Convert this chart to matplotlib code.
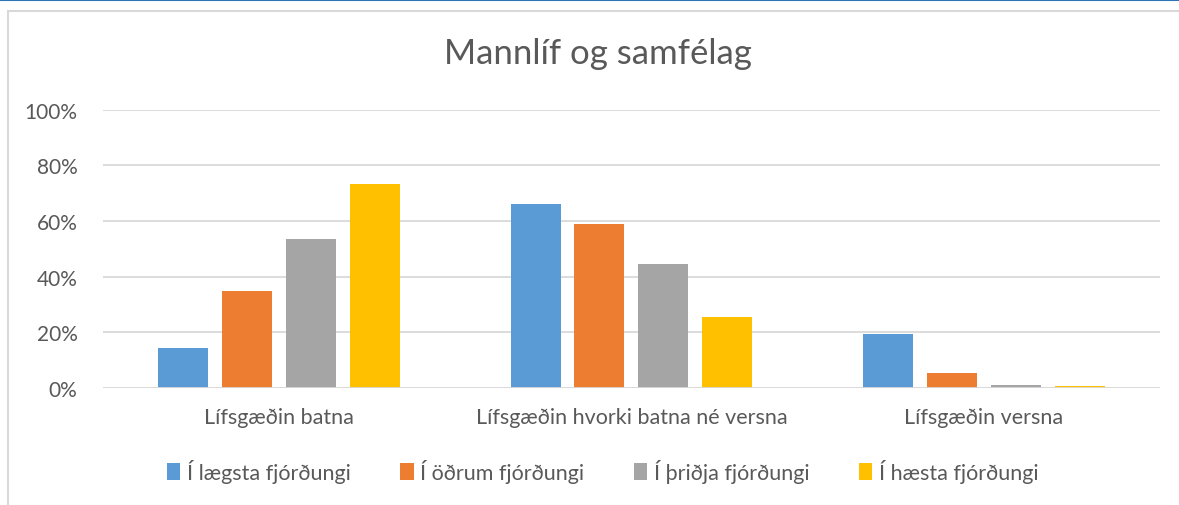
import numpy as np
import matplotlib.pyplot as plt
from matplotlib.patches import Patch
from matplotlib.lines import Line2D

plt.rcParams['font.family'] = ['Lato', 'DejaVu Sans']

categories = ["Lífsgæðin batna", "Lífsgæðin hvorki batna né versna", "Lífsgæðin versna"]
series_names = ["Í lægsta fjórðungi", "Í öðrum fjórðungi", "Í þriðja fjórðungi", "Í hæsta fjórðungi"]
lowest = [14.3, 66.1, 19.2]
second = [35.0, 59.1, 5.2]
third = [53.6, 44.4, 1.2]
highest = [73.2, 25.4, 0.8]
yticks = [0, 20, 40, 60, 80, 100]

colors = ["#5B9BD5", "#ED7D31", "#A5A5A5", "#FFC000"]
txt = "#595959"

fig = plt.figure(figsize=(11.79, 5.06), dpi=100)
ax = fig.add_axes([0.087, 0.2315, 0.897, 0.5495])

x = np.arange(len(categories))
width = 0.142
step = 0.181
for i, (vals, col) in enumerate(zip([lowest, second, third, highest], colors)):
    ax.bar(x + (i - 1.5) * step, vals, width, color=col, zorder=3)

ax.set_xlim(-0.5, 2.5)
ax.set_ylim(0, 100)
ax.set_yticks(yticks)
ax.set_yticklabels([f"{t}%" for t in yticks], color=txt, fontsize=15)
ax.set_xticks(x)
ax.set_xticklabels(categories, color=txt, fontsize=15.5)
ax.tick_params(length=0, axis='y', pad=18)
ax.tick_params(length=0, axis='x', pad=14)
ax.grid(axis='y', color="#d9d9d9", linewidth=1.3, zorder=0)
for s in ax.spines.values():
    s.set_visible(False)
ax.axhline(0, color="#d9d9d9", linewidth=1.3, zorder=4)

# title centred on the chart box, not the plot area
fig.text(0.507, 0.893, "Mannlíf og samfélag", fontsize=25, color=txt, ha='center', va='center')

handles = [Patch(facecolor=c, edgecolor='none') for c in colors]
fig.legend(handles, series_names, loc='center', bbox_to_anchor=(0.511, 0.067), ncol=4,
           frameon=False, fontsize=15.5, labelcolor=txt, handlelength=0.63, handleheight=0.82,
           handletextpad=0.3, columnspacing=2.3)

# chart frame
fig.add_artist(Line2D([0.0068, 0.0068], [0, 0.977], color="#d9d9d9", linewidth=1.5, transform=fig.transFigure))
fig.add_artist(Line2D([0.0068, 1.0], [0.977, 0.977], color="#d9d9d9", linewidth=1.5, transform=fig.transFigure))
fig.add_artist(Line2D([0, 1.0], [0.999, 0.999], color="#2E75B6", linewidth=1.5, transform=fig.transFigure))

fig.savefig("out.png", dpi=100)
